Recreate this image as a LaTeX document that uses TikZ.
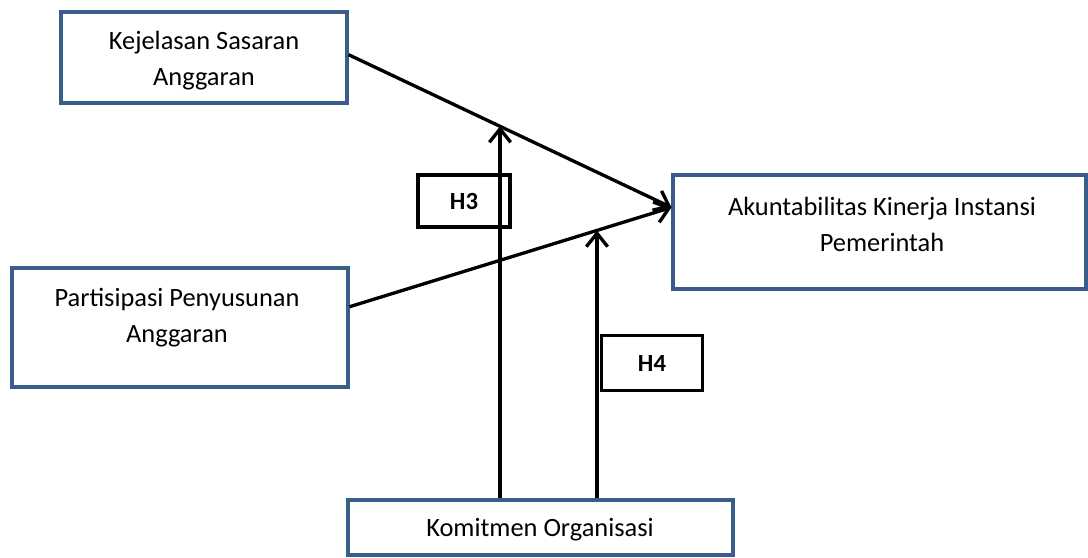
\documentclass[tikz,border=0pt]{standalone}
\usepackage{fontspec}
\setmainfont{Carlito}
\usetikzlibrary{arrows.meta,calc}
\definecolor{boxblue}{RGB}{56,93,138}
\begin{document}
\begin{tikzpicture}[x=0.75pt,y=-0.75pt,
  varbox/.style={draw=boxblue,line width=2.3pt,inner sep=0pt},
  hypbox/.style={draw=black,line width=2.3pt,inner sep=0pt,font=\fontsize{18.5}{22}\selectfont\bfseries},
  lbl/.style={align=center,inner sep=0pt,font=\fontsize{19.8}{27}\selectfont},
  path/.style={draw=black,line width=2.5pt,-{Straight Barb[length=10pt,width=16pt,line width=2.5pt]}}]
\useasboundingbox (0,0) rectangle (1088,557);
% variable boxes
\node[varbox,minimum width=214.5pt,minimum height=68.25pt] (ksa) at (204,57.5) {};
\node[lbl] (ksaT) at (204,61) {Kejelasan Sasaran\\Anggaran};
\node[varbox,minimum width=252pt,minimum height=89.25pt] (ppa) at (180,327.5) {};
\node[lbl] (ppaT) at (177,318) {Partisipasi Penyusunan\\Anggaran};
\node[varbox,minimum width=309.75pt,minimum height=85.5pt] (aki) at (879.5,232) {};
\node[lbl] (akiT) at (882,224) {Akuntabilitas Kinerja Instansi\\Pemerintah};
\node[varbox,minimum width=288.75pt,minimum height=41.25pt] (ko) at (540.5,527.5) {};
\node[lbl] (koT) at (540,530) {Komitmen Organisasi};
% connection points
\coordinate (ksaE) at ($(ksa.north east)!0.47!(ksa.south east)$);
\coordinate (ppaE) at ($(ppa.north east)!0.33!(ppa.south east)$);
\coordinate (akiW) at ($(aki.north west)!0.29!(aki.south west)$);
\coordinate (koA) at ($(ko.north)+(-40.5,0)$);
\coordinate (koB) at ($(ko.north)+(56.5,0)$);
% direct paths
\draw[path] (ksaE) -- (akiW) coordinate[pos=0.469] (m1);
\draw[path] (ppaE) -- (akiW) coordinate[pos=0.766] (m2);
% moderation paths
\draw[path] (koA) -- (koA |- m1);
\draw[path] (koB) -- (koB |- m2);
% hypothesis labels
\node[hypbox,minimum width=69pt,minimum height=39pt] (h3) at (464,201) {H3};
\node[hypbox,minimum width=76pt,minimum height=41pt] (h4) at (652,363) {H4};
\end{tikzpicture}
\end{document}
